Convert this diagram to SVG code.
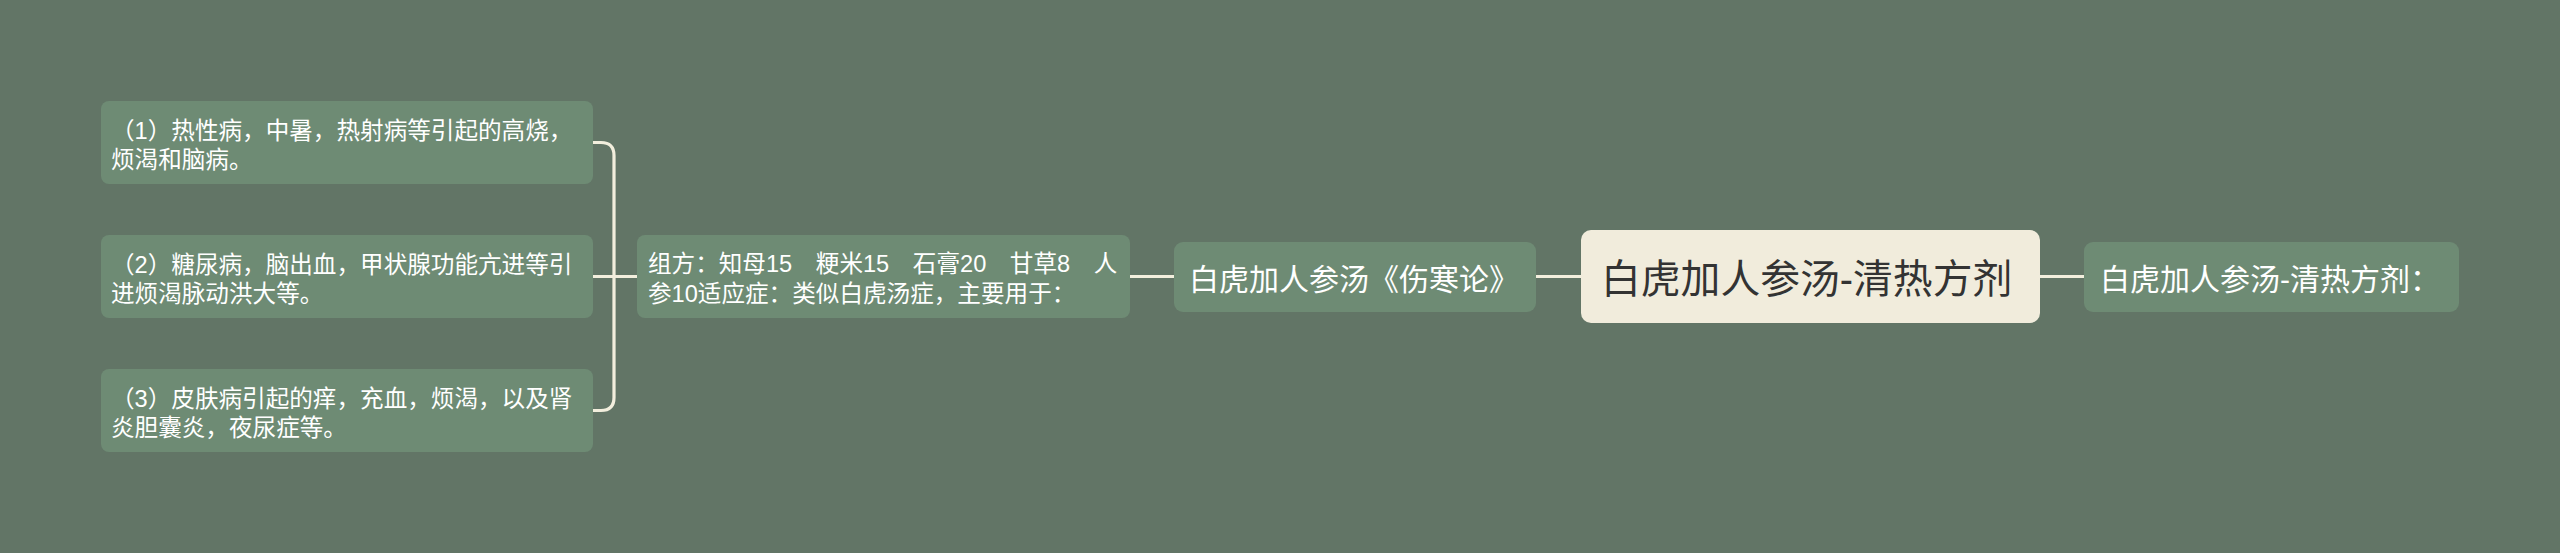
<svg xmlns="http://www.w3.org/2000/svg" width="2560" height="553" viewBox="0 0 2560 553">
<style>
.bg{fill:#627566}
.box{fill:#6e8b74}
.root{fill:#f1ecdc}
.t{font-family:"Liberation Sans","Noto Sans CJK SC",sans-serif;fill:#ffffff}
.s{font-size:23.6px}
.m{font-size:30px}
.r{font-family:"Liberation Sans","Noto Sans CJK SC",sans-serif;font-size:39.8px;fill:#333333}
.c{fill:none;stroke:#f2eedd;stroke-width:3.2;stroke-linecap:round}
</style>
<rect class="bg" x="0" y="0" width="2560" height="553"/>
<g id="connectors">
<path class="c" d="M593,142.5 H601 Q614,142.5 614,155.5 V397.5 Q614,410.5 601,410.5 H593"/>
<path class="c" d="M593,276.5 H637"/>
<path class="c" d="M1130,276.5 H1174"/>
<path class="c" d="M1536,276.5 H1581"/>
<path class="c" d="M2040,276.5 H2084"/>
</g>
<g id="leaf1">
<rect class="box" x="101" y="101" width="492" height="83" rx="8"/>
<text class="t s" x="111" y="138.5">（1）热性病，中暑，热射病等引起的高烧，</text>
<text class="t s" x="111" y="168">烦渴和脑病。</text>
</g>
<g id="leaf2">
<rect class="box" x="101" y="235" width="492" height="83" rx="8"/>
<text class="t s" x="111" y="272.5">（2）糖尿病，脑出血，甲状腺功能亢进等引</text>
<text class="t s" x="111" y="302">进烦渴脉动洪大等。</text>
</g>
<g id="leaf3">
<rect class="box" x="101" y="369" width="492" height="83" rx="8"/>
<text class="t s" x="111" y="406.5">（3）皮肤病引起的痒，充血，烦渴，以及肾</text>
<text class="t s" x="111" y="436">炎胆囊炎，夜尿症等。</text>
</g>
<g id="recipe">
<rect class="box" x="637" y="235" width="493" height="83" rx="8"/>
<text class="t s" x="648" y="272">组方：知母15　粳米15　石膏20　甘草8　人</text>
<text class="t s" x="648" y="301.5">参10适应症：类似白虎汤症，主要用于：</text>
</g>
<g id="source">
<rect class="box" x="1174" y="242" width="362" height="70" rx="9"/>
<text class="t m" x="1189" y="289.5">白虎加人参汤《伤寒论》</text>
</g>
<g id="root">
<rect class="root" x="1581" y="230" width="459" height="93" rx="10"/>
<text class="r" x="1601" y="293">白虎加人参汤-清热方剂</text>
</g>
<g id="right">
<rect class="box" x="2084" y="242" width="375" height="70" rx="9"/>
<text class="t m" x="2100" y="289.5">白虎加人参汤-清热方剂：</text>
</g>
</svg>
